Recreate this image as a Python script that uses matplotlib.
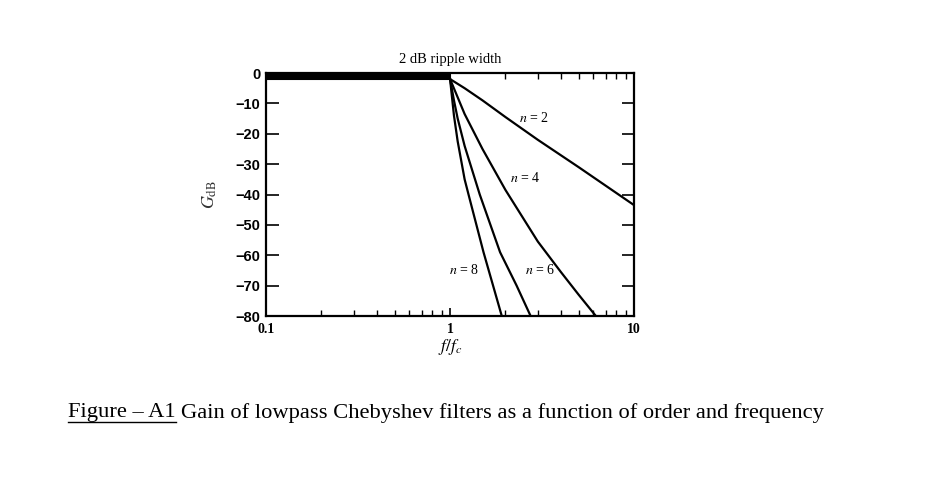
import matplotlib
matplotlib.use("Agg")
import matplotlib.pyplot as plt
from matplotlib.lines import Line2D

plt.rcParams["mathtext.fontset"] = "stix"

# passband ripple band (0 .. -2 dB) from 0.1 to fc
ripple_f = [0.1, 1.0]
ripple_top = [0.0, 0.0]
ripple_bottom = [-2.0, -2.0]

# stopband curves
f_n2 = [1.0, 1.2, 1.5, 2.0, 3.0, 5.0, 10.0]
g_n2 = [-2, -5, -9, -14.5, -22, -31, -43.5]

f_n4 = [1.0, 1.1, 1.2, 1.5, 2.0, 3.0, 4.0, 5.0, 6.2]
g_n4 = [-2, -8, -13.5, -25, -38.5, -55.5, -65.5, -73, -80]

f_n6 = [1.0, 1.05, 1.1, 1.2, 1.45, 1.87, 2.3, 2.74]
g_n6 = [-2, -9, -15, -24, -40, -59, -70, -80]

f_n8 = [1.0, 1.05, 1.1, 1.2, 1.26, 1.52, 1.91]
g_n8 = [-2, -14, -22.5, -35, -40, -59, -80]

curves = [(f_n2, g_n2), (f_n4, g_n4), (f_n6, g_n6), (f_n8, g_n8)]

labels = ["$n$ = 2", "$n$ = 4", "$n$ = 6", "$n$ = 8"]
label_f = [2.86, 2.56, 3.08, 1.19]
label_g = [-14.7, -34.5, -64.8, -64.8]

yticks = [0, -10, -20, -30, -40, -50, -60, -70, -80]
xticks = [0.1, 1, 10]
xticklabels = ["0.1", "1", "10"]

fig = plt.figure(figsize=(9.27, 4.91), dpi=100)
ax = fig.add_axes([0.287, 0.3564, 0.397, 0.4949])

ax.fill_between(ripple_f, ripple_bottom, ripple_top, color="black", lw=1.5)
for f, g in curves:
    ax.plot(f, g, color="black", lw=1.6, solid_joinstyle="round")

for lab, lf, lg in zip(labels, label_f, label_g):
    ax.text(lf, lg, lab, fontsize=10, family="Liberation Serif",
            ha="center", va="center")

ax.set_xscale("log")
ax.set_xlim(0.1, 10)
ax.set_ylim(-80, 0)
ax.set_yticks(yticks)
ax.set_yticklabels(["0"] + ["\u2212%d" % (-v) for v in yticks[1:]],
                   fontsize=10.5, family="Liberation Sans", fontweight="bold")
ax.set_xticks(xticks)
ax.set_xticklabels(xticklabels, fontsize=10, family="Liberation Serif",
                   fontweight="bold")
ax.tick_params(axis="both", which="major", direction="in", length=9,
               width=1.2, top=True, right=True, pad=4)
ax.tick_params(axis="x", which="minor", direction="in", length=4,
               width=1, top=True)
ax.tick_params(axis="x", which="major", length=6, pad=5)
for sp in ax.spines.values():
    sp.set_linewidth(1.6)

ax.set_title("2 dB ripple width", fontsize=10.5, family="Liberation Serif",
             pad=7)
ax.set_xlabel("$f/f_c$", fontsize=12.5, labelpad=1)
ax.set_ylabel("$G_{\\mathrm{dB}}$", fontsize=13, color="#333333", labelpad=12)

# caption with underlined prefix
renderer = fig.canvas.get_renderer()
cap_y = 1 - 413 / 491
t1 = fig.text(68 / 927, cap_y, "Figure \u2013 A1", fontsize=16.2,
              family="Liberation Serif", va="center")
bb = t1.get_window_extent(renderer).transformed(fig.transFigure.inverted())
fig.add_artist(Line2D([bb.x0, bb.x1], [bb.y0 + 0.002, bb.y0 + 0.002],
                      transform=fig.transFigure, color="black", lw=1))
fig.text(bb.x1 + 5 / 927, cap_y,
         "Gain of lowpass Chebyshev filters as a function of order and frequency",
         fontsize=16.2, family="Liberation Serif", va="center")

fig.savefig("out.png", dpi=100)
